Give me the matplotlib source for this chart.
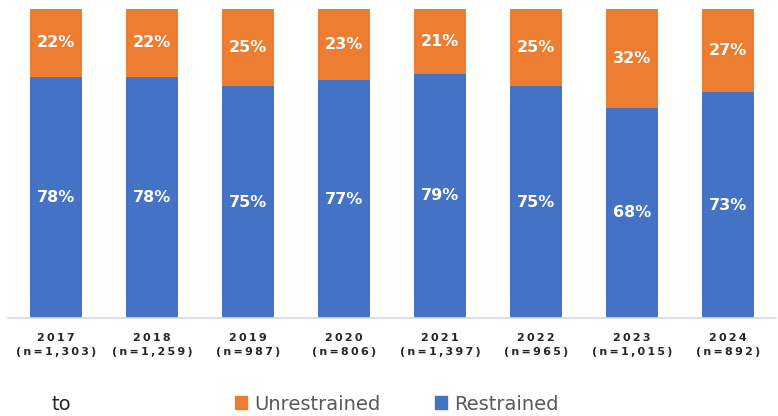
import matplotlib
matplotlib.use("Agg")
import matplotlib.pyplot as plt
from matplotlib.patches import Patch

years = ["2017", "2018", "2019", "2020", "2021", "2022", "2023", "2024"]
ns = ["1,303", "1,259", "987", "806", "1,397", "965", "1,015", "892"]
restrained = [78, 78, 75, 77, 79, 75, 68, 73]
unrestrained = [22, 22, 25, 23, 21, 25, 32, 27]

BLUE = "#4472C4"
ORANGE = "#ED7D31"
TS = "\u2009"

fig = plt.figure(figsize=(7.78, 4.16), dpi=100)
ax = fig.add_axes([8/778, 98/416, 768/778, 309/416])
x = list(range(len(years)))
w = 0.55
ax.bar(x, restrained, width=w, color=BLUE, zorder=2)
ax.bar(x, unrestrained, width=w, bottom=restrained, color=ORANGE, zorder=2)

for i in x:
    ax.text(i, restrained[i] / 2, f"{restrained[i]}%", ha="center", va="center",
            color="white", fontsize=11.5, fontweight="bold")
    ax.text(i, restrained[i] + unrestrained[i] / 2, f"{unrestrained[i]}%", ha="center",
            va="center", color="white", fontsize=11.5, fontweight="bold")

ax.set_xlim(-0.5, len(years) - 0.5)
ax.set_ylim(0, 100)
labels = [TS.join(y) + "\n" + TS.join("(n=" + n + ")") for y, n in zip(years, ns)]
ax.set_xticks(x)
ax.set_xticklabels(labels, fontsize=8, fontweight="bold", color="#262626", linespacing=1.6)
ax.tick_params(axis="x", length=0, pad=10.5)
ax.set_yticks([])
for s in ["top", "left", "right"]:
    ax.spines[s].set_visible(False)
ax.spines["bottom"].set_color("#D9D9D9")
ax.spines["bottom"].set_linewidth(1.2)

fig.text(51/778, 1 - 404/416, "to", fontsize=14, color="#262626", va="center", ha="left")
handles = [Patch(color=ORANGE, label="Unrestrained"), Patch(color=BLUE, label="Restrained")]
fig.legend(handles=handles, loc="center", bbox_to_anchor=(397/778, 1 - 404/416), ncol=2,
           frameon=False, handlelength=0.6, handleheight=0.6, handletextpad=0.4,
           columnspacing=2.8, prop={"size": 14},
           labelcolor="#595959")

fig.savefig("out.png", dpi=100)
